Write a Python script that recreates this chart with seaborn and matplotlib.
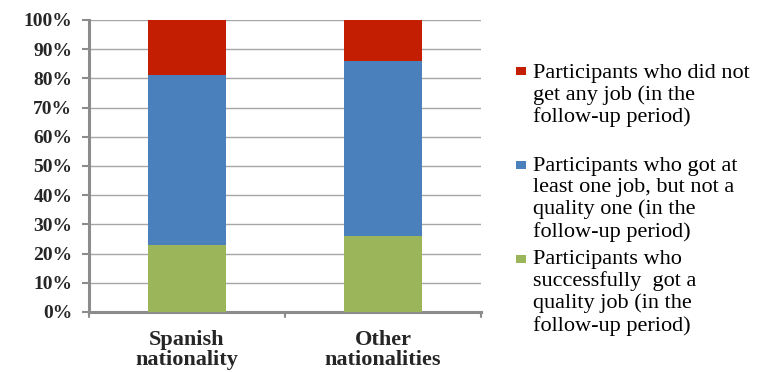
import matplotlib
matplotlib.use("Agg")
import matplotlib.pyplot as plt
from matplotlib.patches import Rectangle
import seaborn as sns
import pandas as pd

# Share of participants by outcome (percent), per nationality group
categories = ["Spanish\nnationality", "Other\nnationalities"]
quality_job = [23, 26]
job_not_quality = [58, 60]
no_job = [19, 14]

series_labels = [
    "Participants who did not\nget any job (in the\nfollow-up period)",
    "Participants who got at\nleast one job, but not a\nquality one (in the\nfollow-up period)",
    "Participants who\nsuccessfully  got a\nquality job (in the\nfollow-up period)",
]
colors = ["#C31E02", "#4A81BD", "#9BB55A"]

sns.set_theme(style="white")
plt.rcParams["font.family"] = ["Liberation Serif", "DejaVu Serif"]

df = pd.DataFrame({
    "category": categories,
    "green": quality_job,
    "blue": [g + b for g, b in zip(quality_job, job_not_quality)],
    "red": [g + b + r for g, b, r in zip(quality_job, job_not_quality, no_job)],
})

W, H = 759, 372
fig = plt.figure(figsize=(W / 100, H / 100), dpi=100)
ax = fig.add_axes([89 / W, 1 - 312 / H, (481 - 89) / W, (312 - 20) / H])

# Stacked bars drawn as overlaid cumulative totals, tallest first
for col, color in zip(["red", "blue", "green"], colors):
    sns.barplot(data=df, x="category", y=col, color=color, width=0.4,
                saturation=1, ax=ax, zorder=3, linewidth=0)

ax.set_ylim(0, 100)
ax.set_xlim(-0.5, 1.5)
ax.set_yticks(range(0, 101, 10))
ax.set_yticklabels([f"{v}%" for v in range(0, 101, 10)],
                   fontsize=14, fontweight="bold")
ax.set_xticks([0, 1])
ax.set_xticklabels(categories, fontsize=16, fontweight="bold", linespacing=1.02)
ax.tick_params(axis="x", length=0, pad=13)
ax.tick_params(axis="y", length=5, width=1.5, color="#8C8C8C", pad=7, left=True)
ax.set_xlabel("")
ax.set_ylabel("")

ax.yaxis.grid(True, color="#A6A6A6", linewidth=1.0, zorder=0)
ax.set_axisbelow(True)
for side in ["top", "right"]:
    ax.spines[side].set_visible(False)
for side in ["left", "bottom"]:
    ax.spines[side].set_color("#8C8C8C")
    ax.spines[side].set_linewidth(2.2)

# Category boundary ticks on the x axis
for xb in [-0.5, 0.5, 1.5]:
    ax.plot([xb, xb], [0, -1.6], color="#8C8C8C", lw=1.5, clip_on=False, zorder=4)

# Legend entries: colour square plus wrapped label
square_tops = [67, 161, 255]
text_tops = [64, 157, 250]
for label, color, sq, top in zip(series_labels, colors, square_tops, text_tops):
    fig.add_artist(Rectangle((516 / W, 1 - (sq + 8) / H), 10 / W, 8 / H,
                             transform=fig.transFigure, facecolor=color,
                             edgecolor="none"))
    fig.text(533 / W, 1 - top / H, label, fontsize=16, va="top",
             ha="left", linespacing=1.16, color="black")

fig.savefig("out.png", dpi=100)
